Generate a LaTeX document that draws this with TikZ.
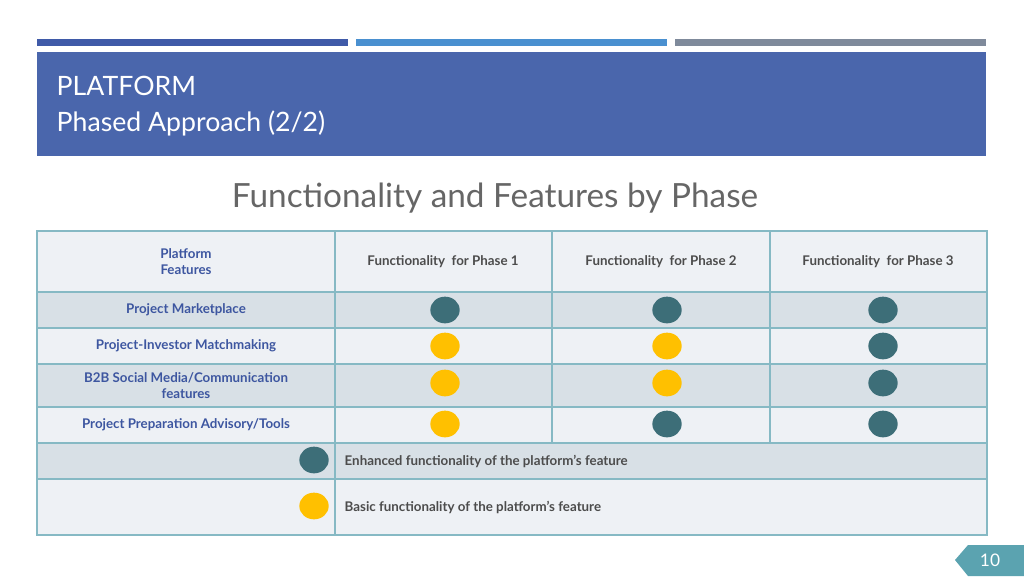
\documentclass[tikz,border=0pt]{standalone}
\usepackage{fontspec}
\setmainfont{Lato}
\definecolor{barA}{HTML}{3F5AA8}
\definecolor{barB}{HTML}{4A90D0}
\definecolor{barC}{HTML}{7F8A9B}
\definecolor{headblue}{HTML}{4A66AC}
\definecolor{rowdark}{HTML}{D8E0E6}
\definecolor{rowlight}{HTML}{EEF1F5}
\definecolor{gridline}{HTML}{86B9C4}
\definecolor{featblue}{HTML}{3D56A0}
\definecolor{enh}{HTML}{3D6E78}
\definecolor{basic}{HTML}{FFC000}
\definecolor{tab}{HTML}{5BA3B0}
\tikzset{
  feat/.style={text=featblue, font=\bfseries\fontsize{10}{12}\selectfont, align=center},
  phase/.style={text=black!70, font=\bfseries\fontsize{10}{12}\selectfont},
  dotE/.style={ellipse, fill=enh, minimum width=22pt, minimum height=20pt, inner sep=0pt},
  dotB/.style={ellipse, fill=basic, minimum width=22pt, minimum height=20pt, inner sep=0pt},
}
\usetikzlibrary{shapes.geometric}
\begin{document}
\begin{tikzpicture}[x=0.75pt,y=-0.75pt]
\useasboundingbox (0,0) rectangle (1024,576);
\fill[white] (0,0) rectangle (1024,576);
% top bars
\fill[barA] (37,39) rectangle (348,46);
\fill[barB] (356,39) rectangle (667,46);
\fill[barC] (675,39) rectangle (986,46);
% header
\fill[headblue] (37,52) rectangle (986,156);
\node[anchor=west, text=white, font=\fontsize{20}{24}\selectfont] (ttlA) at (52,86) {PLATFORM};
\node[anchor=west, text=white, font=\fontsize{20}{24}\selectfont] (ttlB) at (52,123) {Phased Approach (2/2)};
\node[text=black!60, font=\fontsize{25}{30}\selectfont] (title) at (495,198) {Functionality and Features by Phase};
% rows
\foreach \ya/\yb/\c in {231/292/rowlight, 292/328/rowdark, 328/364/rowlight, 364/407/rowdark, 407/443/rowlight, 443/479/rowdark, 479/535/rowlight}
  \fill[\c] (37,\ya) rectangle (987,\yb);
\draw[gridline, line width=1pt] (37,231) rectangle (987,535);
\foreach \y in {292,328,364,407,443,479} \draw[gridline, line width=1pt] (37,\y) -- (987,\y);
\draw[gridline, line width=1pt] (335,231) -- (335,535);
\foreach \x in {552,770} \draw[gridline, line width=1pt] (\x,231) -- (\x,443);
% header row
\node[feat] (hfeat) at (186,262) {Platform\\Features};
\node[phase] (ph1) at (443,262) {Functionality\ \ for Phase 1};
\node[phase] (ph2) at (661,262) {Functionality\ \ for Phase 2};
\node[phase] (ph3) at (878,262) {Functionality\ \ for Phase 3};
% features
\node[feat] (fa) at (186,310) {Project Marketplace};
\node[feat] (fb) at (186,346) {Project-Investor Matchmaking};
\node[feat] (fc) at (186,386) {B2B Social Media/Communication\\features};
\node[feat] (fd) at (186,425) {Project Preparation Advisory/Tools};
% dots
\foreach \y/\a/\b/\c [count=\i] in {310/E/E/E, 346/B/B/E, 383/B/B/E, 424/B/E/E} {
  \node[dot\a] (d\i a) at (445,\y) {};
  \node[dot\b] (d\i b) at (667,\y) {};
  \node[dot\c] (d\i c) at (883,\y) {};
}
% legend
\node[dotE] (le) at (314,460) {};
\node[phase, anchor=west] (lte) at (340,461) {Enhanced functionality of the platform’s feature};
\node[dotB] (lb) at (314,506) {};
\node[phase, anchor=west] (ltb) at (340,507) {Basic functionality of the platform’s feature};
% page tab
\fill[tab] (1024,545) -- (968,545) -- (955,560) -- (968,576) -- (1024,576) -- cycle;
\node[text=white, font=\fontsize{13}{15}\selectfont] (pg) at (990,560) {10};
\end{tikzpicture}
\end{document}
